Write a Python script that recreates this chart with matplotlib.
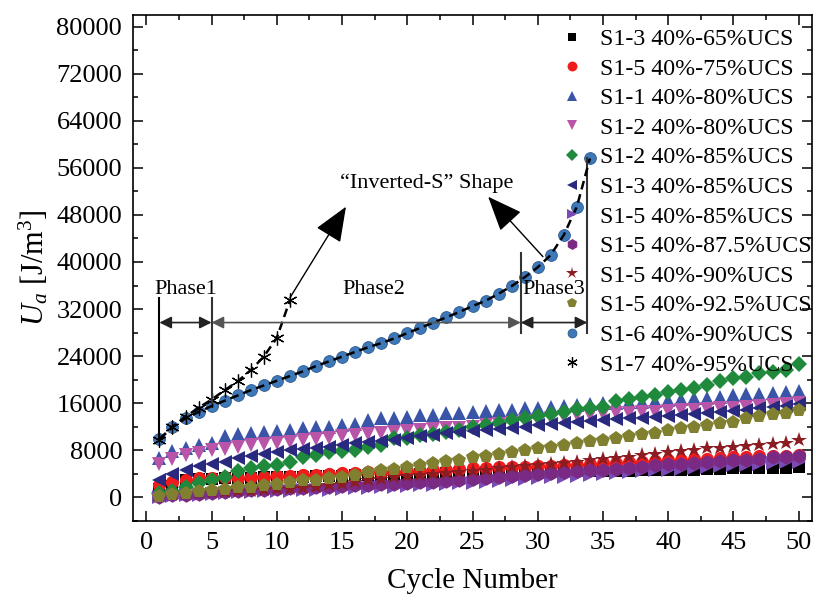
import numpy as np
import matplotlib
matplotlib.use("Agg")
import matplotlib.pyplot as plt
from matplotlib.ticker import MultipleLocator

plt.rcParams['font.family'] = ['Liberation Serif', 'DejaVu Serif']
plt.rcParams['mathtext.fontset'] = 'custom'
plt.rcParams['mathtext.rm'] = 'Liberation Serif'
plt.rcParams['mathtext.it'] = 'Liberation Serif:italic'

# cycle numbers
cycles = list(range(1, 51))
cycles_s16 = list(range(1, 35))
cycles_s17 = list(range(1, 12))

# accumulated energy U_a [J/m^3]
s13_65 = [1400, 1900, 3000, 3100, 3150, 3200, 3250, 3300, 3350, 3400,
          3450, 3500, 3550, 3600, 3650, 3700, 3750, 3800, 3850, 3900,
          3950, 4000, 4050, 4100, 4150, 4200, 4250, 4300, 4300, 4350,
          4400, 4400, 4450, 4450, 4500, 4500, 4500, 4550, 4550, 4600,
          4650, 4700, 4750, 4850, 4900, 4950, 4950, 5000, 5000, 5050]
s15_75 = [2000, 2600, 3000, 3200, 3200, 3350, 3250, 3350, 3450, 3550,
          3600, 3750, 3850, 4000, 4050, 4100, 4200, 4250, 4350, 4400,
          4500, 4600, 4700, 4800, 4900, 4950, 5050, 5100, 5150, 5250,
          5350, 5450, 5550, 5650, 5750, 5850, 5950, 6050, 6150, 6250,
          6350, 6450, 6550, 6650, 6750, 6850, 6950, 7000, 7050, 7150]
s11_80 = [6600, 7800, 8400, 8900, 9300, 10400, 10700, 10950, 11100, 11300,
          11500, 11700, 11900, 12000, 12250, 12500, 13200, 13400, 13550, 13700,
          13950, 14050, 14250, 14400, 14500, 14600, 14800, 14900, 15100, 15200,
          15400, 15500, 15600, 15800, 16000, 16100, 16200, 16250, 16300, 16500,
          16700, 16800, 16900, 17100, 17350, 17500, 17600, 17700, 17900, 18000]
s12_80 = [5600, 6500, 7100, 7500, 8000, 8150, 8550, 8850, 9000, 9300,
          9400, 9700, 9850, 10150, 10400, 10550, 10800, 10950, 11100, 11250,
          11400, 11550, 11700, 11800, 12000, 12200, 12400, 12650, 12900, 13150,
          13400, 13650, 13900, 14050, 14200, 14300, 14400, 14500, 14550, 14650,
          14800, 14900, 15000, 15100, 15250, 15400, 15550, 15700, 15850, 15950]
s12_85 = [700, 1100, 1700, 2400, 2900, 3350, 4500, 4900, 5300, 5400,
          6000, 6850, 7150, 7700, 7900, 8000, 8550, 8850, 10000, 10150,
          10550, 10700, 11100, 11500, 11950, 12250, 12550, 13200, 13500, 13850,
          14100, 14500, 15000, 15200, 15350, 16400, 16700, 17050, 17400, 17900,
          18200, 18500, 19050, 19800, 20200, 20500, 21050, 21350, 21600, 22600]
s13_85 = [3000, 4000, 4700, 5300, 5700, 6000, 6600, 7000, 7300, 7700,
          8000, 8150, 8300, 8550, 8850, 9150, 9400, 9600, 9800, 10150,
          10400, 10650, 10850, 11100, 11300, 11450, 11600, 11800, 12000, 12200,
          12400, 12600, 12800, 12950, 13100, 13250, 13400, 13500, 13650, 13800,
          14000, 14150, 14300, 14500, 14700, 14900, 15100, 15300, 15550, 15800]
s15_85 = [0, 150, 300, 450, 600, 700, 800, 900, 1000, 1050,
          1100, 1150, 1200, 1300, 1400, 1500, 1600, 1700, 1800, 1900,
          2000, 2100, 2200, 2350, 2450, 2600, 2750, 2900, 3050, 3200,
          3350, 3500, 3650, 3800, 3950, 4100, 4250, 4400, 4550, 4700,
          4850, 5000, 5100, 5250, 5400, 5500, 5650, 5800, 5900, 6050]
s15_875 = [100, 300, 450, 600, 750, 900, 1050, 1200, 1300, 1400,
           1500, 1600, 1700, 1800, 1900, 2000, 2100, 2200, 2300, 2400,
           2500, 2650, 2800, 2950, 3150, 3300, 3500, 3650, 3800, 3950,
           4100, 4250, 4400, 4550, 4700, 4850, 5000, 5150, 5400, 5600,
           5700, 5850, 6000, 6150, 6300, 6400, 6550, 6750, 6850, 7000]
s15_90 = [200, 350, 500, 650, 800, 900, 1000, 1100, 1200, 1350,
          1450, 1600, 1750, 2000, 2300, 2600, 2900, 3150, 3350, 3550,
          3800, 4000, 4150, 4300, 4500, 4700, 4950, 5100, 5300, 5450,
          5600, 5800, 6000, 6300, 6550, 6700, 6850, 7100, 7400, 7700,
          7900, 8100, 8300, 8450, 8600, 8700, 8900, 9100, 9300, 9700]
s15_925 = [200, 500, 750, 1000, 1200, 1450, 1650, 1800, 2050, 2200,
           2600, 2850, 3000, 3200, 3450, 3750, 4300, 4600, 4850, 5050,
           5450, 5750, 6150, 6400, 6750, 7000, 7300, 7700, 8000, 8300,
           8550, 8850, 9250, 9550, 9800, 10150, 10400, 10700, 10950, 11400,
           11700, 11950, 12250, 12650, 12850, 13400, 13800, 14150, 14350, 14900]
s16_90 = [9900, 11900, 13400, 14500, 15500, 16400, 17300, 18200, 19000, 19800,
          20600, 21400, 22300, 23100, 23900, 24700, 25500, 26200, 27000, 27900,
          28800, 29700, 30600, 31500, 32500, 33400, 34600, 35900, 37400, 39100,
          41200, 44600, 49400, 57600]
s17_95 = [9800, 12000, 13700, 15200, 16600, 18200, 19700, 21600, 23900, 27100,
          33500]

labels = ["S1-3 40%-65%UCS", "S1-5 40%-75%UCS", "S1-1 40%-80%UCS",
          "S1-2 40%-80%UCS", "S1-2 40%-85%UCS", "S1-3 40%-85%UCS",
          "S1-5 40%-85%UCS", "S1-5 40%-87.5%UCS", "S1-5 40%-90%UCS",
          "S1-5 40%-92.5%UCS", "S1-6 40%-90%UCS", "S1-7 40%-95%UCS"]

fig = plt.figure(figsize=(8.16, 6.01), dpi=100)
ax = fig.add_axes([0.1634, 0.1336, 0.8313, 0.8414])

series = [
    (s13_65, 's', 'black', 8.5),
    (s15_75, 'o', '#f01c1c', 9.5),
    (s11_80, '^', '#3a55a8', 10.5),
    (s12_80, 'v', '#b955a8', 10.5),
    (s12_85, 'D', '#1f8a3c', 8.5),
    (s13_85, '<', '#29297f', 10.5),
    (s15_85, '>', '#7a4ab5', 10.5),
    (s15_875, 'h', '#7b2a84', 10.5),
    (s15_90, '*', '#8b1c22', 11.5),
    (s15_925, 'p', '#808030', 10.5),
]
for (vals, mk, col, ms), lab in zip(series, labels[:10]):
    ax.plot(cycles, vals, linestyle='none', marker=mk, color=col,
            markersize=ms, markeredgewidth=0, label=lab)

# S1-6 and S1-7 with dashed trend lines
ax.plot(cycles_s16, s16_90, linestyle='none', marker='o', color='#3f78b8',
        markersize=8.5, markeredgecolor='#2d5a90', markeredgewidth=0.6,
        label=labels[10])
ax.plot(cycles_s17, s17_95, linestyle='none', marker=(6, 2, 0), color='black',
        markersize=10, markeredgewidth=0.9, label=labels[11])
ax.plot(cycles_s16, s16_90, linestyle=(0, (3.5, 2)), color='black', lw=1.8, zorder=3)
ax.plot(cycles_s17, s17_95, linestyle=(0, (3.5, 2)), color='black', lw=1.8, zorder=3)

# phase boundaries
ax.plot([1, 1], [9800, 33900], color='black', lw=1.5)
ax.plot([5, 5], [16000, 33900], color='#333333', lw=1.5)
ax.plot([28.7, 28.7], [28000, 41500], color='#333333', lw=1.5)
ax.plot([33.8, 33.8], [28000, 57600], color='#333333', lw=1.5)

arrow_kw = dict(arrowstyle='<|-|>', color='#222222', lw=1.2,
                mutation_scale=18, shrinkA=0, shrinkB=0)
ax.annotate('', xy=(5, 29700), xytext=(1, 29700), arrowprops=arrow_kw)
ax.annotate('', xy=(28.7, 29700), xytext=(5, 29700),
            arrowprops=dict(arrow_kw, color='#555555'))
ax.annotate('', xy=(33.8, 29700), xytext=(28.7, 29700), arrowprops=arrow_kw)

ax.text(3.0, 35300, 'Phase1', fontsize=16, ha='center', va='center')
ax.text(17.4, 35300, 'Phase2', fontsize=16, ha='center', va='center')
ax.text(31.2, 35300, 'Phase3', fontsize=16, ha='center', va='center')

ax.text(21.5, 53400, '\u201cInverted-S\u201d Shape', fontsize=16,
        ha='center', va='center')
head_kw = dict(arrowstyle='-|>,head_length=1.1,head_width=0.45', color='black',
               lw=1.0, mutation_scale=20, shrinkA=0, shrinkB=0)
ax.annotate('', xy=(15.3, 49400), xytext=(11, 33900), arrowprops=head_kw)
ax.annotate('', xy=(26.2, 51100), xytext=(30.4, 40900), arrowprops=head_kw)

ax.set_xlim(-1, 51)
ax.set_ylim(-4000, 82000)
ax.xaxis.set_major_locator(MultipleLocator(5))
ax.xaxis.set_minor_locator(MultipleLocator(2.5))
ax.yaxis.set_major_locator(MultipleLocator(8000))
ax.yaxis.set_minor_locator(MultipleLocator(4000))
ax.tick_params(which='both', direction='in', top=True, right=True, width=1.1)
ax.tick_params(which='major', length=7.5, labelsize=19, pad=8)
ax.tick_params(which='minor', length=3.8)
for sp in ax.spines.values():
    sp.set_linewidth(1.2)

ax.set_xlabel('Cycle Number', fontsize=21, labelpad=10)
ax.set_ylabel(r'$U_a$ [J/m$^3$]', fontsize=22, labelpad=4)

ax.legend(loc='upper left', bbox_to_anchor=(0.604, 1.007), frameon=False,
          fontsize=17.2, handlelength=1.0, handletextpad=0.7,
          labelspacing=0.33, borderpad=0.2, markerscale=0.75)

fig.savefig('out.png', dpi=100)
